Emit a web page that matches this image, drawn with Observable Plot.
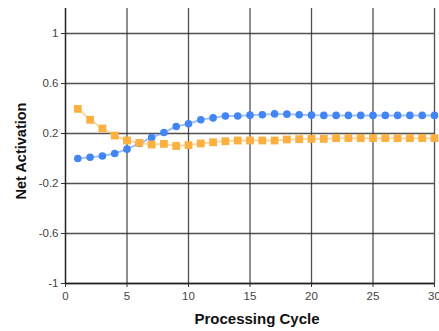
<!DOCTYPE html>
<html>
<head>
<meta charset="utf-8">
<script src="https://cdn.jsdelivr.net/npm/d3@7"></script>
<script src="https://cdn.jsdelivr.net/npm/@observablehq/plot@0.6"></script>
<style>
  html, body { margin: 0; padding: 0; background: #fff; }
  svg { display: block; }
</style>
</head>
<body>
<div id="chart"></div>
<script>
const cycles = [1,2,3,4,5,6,7,8,9,10,11,12,13,14,15,16,17,18,19,20,21,22,23,24,25,26,27,28,29,30];
const seriesA = [0.00,0.01,0.02,0.04,0.075,0.12,0.168,0.208,0.256,0.278,0.31,0.325,0.34,0.34,0.347,0.35,0.357,0.355,0.35,0.347,0.345,0.345,0.345,0.345,0.345,0.345,0.345,0.345,0.345,0.345];
const seriesB = [0.397,0.31,0.24,0.184,0.144,0.125,0.112,0.117,0.10,0.107,0.12,0.13,0.138,0.144,0.144,0.144,0.144,0.152,0.155,0.157,0.157,0.163,0.163,0.163,0.163,0.163,0.163,0.163,0.163,0.163];
const xTicks = [0,5,10,15,20,25,30];
const yTicks = [-1,-0.6,-0.2,0.2,0.6,1];
const xTitle = "Processing Cycle";
const yTitle = "Net Activation";

const blue = "#4285f4";
const orange = "#fbb03f";

const dataA = cycles.map((c, i) => ({x: c, y: seriesA[i]}));
const dataB = cycles.map((c, i) => ({x: c, y: seriesB[i]}));

const chart = Plot.plot({
  width: 439,
  height: 331,
  marginLeft: 65,
  marginRight: 5,
  marginTop: 8,
  marginBottom: 48,
  style: {fontFamily: "'Liberation Sans', Arial, sans-serif", fontSize: "11.5px", color: "#444", background: "#fff"},
  x: {domain: [0, 30]},
  y: {domain: [-1, 1.2]},
  marks: [
    Plot.ruleX(xTicks, {stroke: "#333", strokeOpacity: 0.85, strokeWidth: 1.3}),
    Plot.ruleY(yTicks, {stroke: "#333", strokeOpacity: 0.85, strokeWidth: 1.3, x1: 0, x2: 30}),
    Plot.axisX({ticks: xTicks, tickSize: 4, tickPadding: 4, label: null, stroke: "#333", fill: "#444", fontSize: 11.5}),
    Plot.axisY({ticks: yTicks, tickSize: 4, tickPadding: 3, label: null, stroke: "#333", fill: "#444", fontSize: 11.5, tickFormat: d => String(d)}),
    Plot.ruleX([0], {stroke: "#222", strokeWidth: 1.3}),
    Plot.ruleY([-1], {stroke: "#222", strokeWidth: 1.3, x1: 0, x2: 30}),
    Plot.line(dataA, {x: "x", y: "y", stroke: blue, strokeOpacity: 0.5, strokeWidth: 2}),
    Plot.line(dataB, {x: "x", y: "y", stroke: orange, strokeOpacity: 0.5, strokeWidth: 2}),
    Plot.dot(dataA, {x: "x", y: "y", fill: blue, r: 3.8, symbol: "circle"}),
    Plot.dot(dataB, {x: "x", y: "y", fill: orange, r: 4.4, symbol: "square"}),
    Plot.text([xTitle], {frameAnchor: "bottom", textAnchor: "middle", dy: 40, dx: 7, text: d => d, fontWeight: "bold", fontSize: 15, fill: "#111"}),
    Plot.text([yTitle], {frameAnchor: "left", textAnchor: "middle", dx: -44, dy: 5, rotate: -90, text: d => d, fontWeight: "bold", fontSize: 14.5, fill: "#111"})
  ]
});
document.getElementById("chart").appendChild(chart);
</script>
</body>
</html>
